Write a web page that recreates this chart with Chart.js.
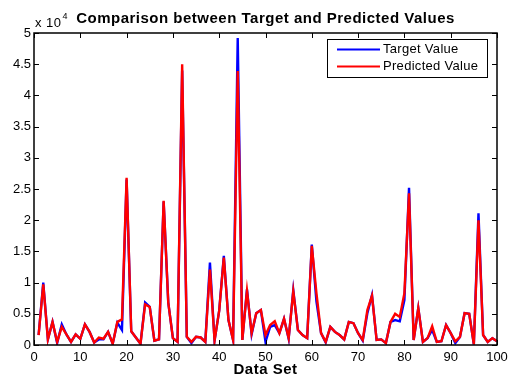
<!DOCTYPE html>
<html>
<head>
<meta charset="utf-8">
<script src="https://cdn.jsdelivr.net/npm/chart.js@4/dist/chart.umd.min.js"></script>
<style>
  body { margin: 0; background: #fff; }
  #wrap { width: 508px; height: 376px; }
</style>
</head>
<body>
<div id="wrap"><canvas id="chart"></canvas></div>
<script>
const FONT = "'Liberation Sans', Arial, sans-serif";

// data set index 1..100
const dataSet = Array.from({ length: 100 }, (_, i) => i + 1);

const targetValue = [
  1600, 10000, 900, 3700, 300, 3300, 1700, 500, 1700, 1000,
  3300, 2100, 400, 900, 900, 2100, 200, 3600, 2400, 26500,
  2200, 1200, 200, 6800, 6100, 700, 900, 23000, 6800, 1100,
  500, 44000, 1300, 300, 1300, 1200, 500, 13200, 700, 5500,
  14300, 4000, 800, 49200, 800, 8900, 1700, 5100, 5600, 500,
  2900, 3200, 1900, 4200, 1000, 8800, 2400, 1600, 1100, 16100,
  7000, 1900, 400, 2900, 2100, 1600, 900, 3700, 3500, 1900,
  700, 5100, 8000, 800, 900, 300, 3700, 4000, 3800, 7200,
  25200, 800, 5900, 500, 1100, 2400, 500, 600, 3200, 1900,
  300, 1300, 5100, 5000, 100, 21100, 1600, 500, 1100, 600
];

const predictedValue = [
  1600, 9700, 900, 3700, 500, 2900, 1700, 500, 1700, 1000,
  3300, 2100, 400, 1200, 1000, 2100, 200, 3700, 4100, 26800,
  2200, 1200, 200, 6500, 6100, 700, 900, 23100, 6800, 1100,
  500, 45000, 1300, 500, 1300, 1200, 500, 12100, 700, 5500,
  14000, 4000, 800, 43900, 800, 8700, 1900, 5100, 5600, 1600,
  3200, 3800, 1900, 4200, 1100, 8600, 2400, 1600, 1100, 15900,
  8300, 1900, 500, 2900, 2100, 1600, 900, 3700, 3500, 1900,
  800, 5600, 7900, 800, 900, 300, 3700, 5000, 4500, 8300,
  24300, 800, 5900, 500, 1100, 3000, 500, 600, 3200, 1900,
  600, 1300, 5100, 5000, 100, 20000, 1600, 500, 1100, 600
];

const seriesNames = ['Target Value', 'Predicted Value'];
const seriesColors = ['#0000ff', '#ff0000'];

const titleText = 'Comparison between Target and Predicted Values';
const xTitle = 'Data Set';

// MATLAB style box, inward ticks, title, exponent and legend
const matlabLook = {
  id: 'matlabLook',
  afterDraw(chart) {
    const c = chart.ctx;
    const a = chart.chartArea;
    const xs = chart.scales.x, ys = chart.scales.y;
    c.save();
    c.strokeStyle = '#000';
    c.lineWidth = 1;
    // ticks
    c.beginPath();
    xs.ticks.forEach(t => {
      const px = Math.round(xs.getPixelForValue(t.value)) + 0.5;
      c.moveTo(px, a.top); c.lineTo(px, a.top + 5);
      c.moveTo(px, a.bottom); c.lineTo(px, a.bottom - 5);
    });
    ys.ticks.forEach(t => {
      const py = Math.round(ys.getPixelForValue(t.value)) + 0.5;
      c.moveTo(a.left, py); c.lineTo(a.left + 5, py);
      c.moveTo(a.right, py); c.lineTo(a.right - 5, py);
    });
    c.stroke();
    // box
    c.lineWidth = 1.5;
    c.strokeRect(a.left, a.top, a.right - a.left, a.bottom - a.top);

    const mid = (a.left + a.right) / 2;
    c.fillStyle = '#000';
    c.letterSpacing = '0.5px';

    // title
    c.font = 'bold 15px ' + FONT;
    c.textAlign = 'center';
    c.textBaseline = 'middle';
    c.fillText(titleText, mid, 19);

    // x axis title
    c.font = 'bold 15px ' + FONT;
    c.fillText(xTitle, mid, 370);

    // exponent label
    c.font = '13px ' + FONT;
    c.textAlign = 'left';
    c.textBaseline = 'alphabetic';
    c.fillText('x 10', 35, 27);
    const w = c.measureText('x 10').width;
    c.font = '9px ' + FONT;
    c.fillText('4', 35 + w + 1, 19);

    // legend
    const lx = 327, ly = 39, lw = 160, lh = 38;
    c.fillStyle = '#fff';
    c.fillRect(lx, ly, lw, lh);
    c.lineWidth = 1;
    c.strokeStyle = '#000';
    c.strokeRect(lx + 0.5, ly + 0.5, lw, lh);
    c.font = '13px ' + FONT;
    c.letterSpacing = '0.3px';
    c.textBaseline = 'middle';
    chart.data.datasets.forEach((ds, i) => {
      const y = ly + 10.5 + i * 17;
      c.strokeStyle = ds.borderColor;
      c.lineWidth = 2;
      c.beginPath();
      c.moveTo(lx + 10, y); c.lineTo(lx + 53, y);
      c.stroke();
      c.fillStyle = '#000';
      c.fillText(ds.label, lx + 56, y);
    });
    c.restore();
  }
};

const ctx = document.getElementById('chart').getContext('2d');

const chart = new Chart(ctx, {
  type: 'line',
  data: {
    datasets: [
      {
        label: seriesNames[0],
        data: dataSet.map((x, i) => ({ x: x, y: targetValue[i] })),
        borderColor: seriesColors[0],
        borderWidth: 2.4,
        pointRadius: 0,
        tension: 0,
        fill: false,
        order: 2
      },
      {
        label: seriesNames[1],
        data: dataSet.map((x, i) => ({ x: x, y: predictedValue[i] })),
        borderColor: seriesColors[1],
        borderWidth: 2.4,
        pointRadius: 0,
        tension: 0,
        fill: false,
        order: 1
      }
    ]
  },
  options: {
    responsive: true,
    maintainAspectRatio: false,
    animation: false,
    layout: { padding: { top: 33, right: 11, bottom: 0, left: 0 } },
    plugins: {
      legend: { display: false },
      title: { display: false },
      tooltip: { enabled: false }
    },
    scales: {
      x: {
        type: 'linear',
        min: 0,
        max: 100,
        grid: { display: false, drawTicks: false },
        border: { display: false },
        ticks: {
          stepSize: 10,
          padding: 5,
          color: '#000',
          maxRotation: 0,
          font: { family: FONT, size: 13 }
        },
        afterFit(scale) {
          scale.height = 31;
          scale.paddingLeft = 0;
          scale.paddingRight = 0;
        }
      },
      y: {
        min: 0,
        max: 50000,
        grid: { display: false, drawTicks: false },
        border: { display: false },
        ticks: {
          stepSize: 5000,
          padding: 3,
          color: '#000',
          font: { family: FONT, size: 13 },
          callback: v => String(v / 10000)
        },
        afterFit(scale) {
          scale.width = 34;
          scale.paddingTop = 0;
          scale.paddingBottom = 0;
        }
      }
    }
  },
  plugins: [matlabLook]
});
</script>
</body>
</html>
